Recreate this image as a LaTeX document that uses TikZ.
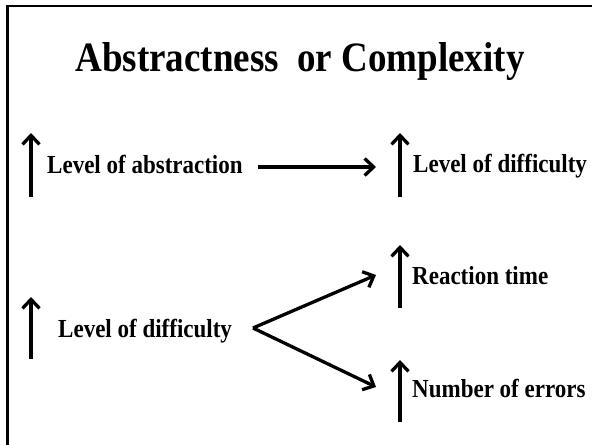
\documentclass[tikz,border=0pt]{standalone}
\usepackage{fontspec}
\usepackage{graphicx}
\setmainfont{Liberation Serif}
\usetikzlibrary{arrows.meta}
% tall bold lettering used for every label
\newcommand{\tallbf}[1]{\scalebox{1}[1.13]{#1}}
\begin{document}
\begin{tikzpicture}[x=1bp,y=-1bp,
  frame/.style={line width=2.6bp},
  uparrow/.style={line width=3.3bp,-{Straight Barb[length=9bp,width=17bp]}},
  conn/.style={line width=3.3bp,-{Straight Barb[length=9bp,width=17bp]}},
  lbl/.style={inner sep=0pt,anchor=base west,font=\fontsize{23bp}{26bp}\selectfont\bfseries},
  ttl/.style={inner sep=0pt,anchor=base,font=\fontsize{37bp}{40bp}\selectfont\bfseries}]
  \useasboundingbox (0,0) rectangle (592,445);
  % open frame: top and left edges only
  \draw[frame] (592,6) -- (7.5,6) -- (7.5,445);

  \node[ttl] (title) at (300,72) {\tallbf{Abstractness\ \ or Complexity}};

  % first row
  \draw[uparrow] (31,197) -- (31,133);
  \node[lbl] (abs) at (47,174) {\tallbf{Level of abstraction}};
  \draw[uparrow] (400,197) -- (400,133);
  \node[lbl] (diffA) at (413,173) {\tallbf{Level of difficulty}};
  \coordinate (hstart) at (258,167);
  \coordinate (hend) at (376,167);
  \draw[conn] (hstart) -- (hend);

  % second row
  \draw[uparrow] (31,359) -- (31,297);
  \node[lbl] (diffB) at (58,337) {\tallbf{Level of difficulty}};
  \coordinate (fork) at (253,328);
  \coordinate (tipR) at (376,275);
  \coordinate (tipE) at (376,387);
  \draw[conn] (fork) -- (tipR);
  \draw[conn] (fork) -- (tipE);
  \draw[uparrow] (400,308) -- (400,245);
  \node[lbl] (react) at (412,285) {\tallbf{Reaction time}};
  \draw[uparrow] (400,422) -- (400,360);
  \node[lbl] (errors) at (412,397) {\tallbf{Number of errors}};
\end{tikzpicture}
\end{document}
